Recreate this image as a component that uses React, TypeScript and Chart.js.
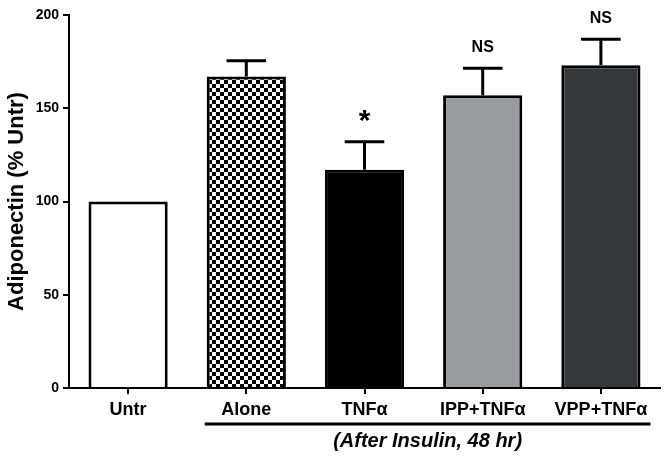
import React, { useEffect, useRef } from 'react';
import { Chart, registerables } from 'chart.js';

Chart.register(...registerables);

const categories = ['Untr', 'Alone', 'TNFα', 'IPP+TNFα', 'VPP+TNFα'];
const means = [100, 167, 117, 157, 173];
const sems = [0, 8.5, 15, 14.5, 14];
const marks = ['', '', '*', 'NS', 'NS'];
const yTicks = [0, 50, 100, 150, 200];
const groupLabel = '(After Insulin, 48 hr)';
const yTitle = 'Adiponectin (% Untr)';
const barColors = ['#ffffff', 'checker', '#000000', '#989ca1', '#35383b'];

const FONT = "'Liberation Sans', Arial, Helvetica, sans-serif";

function makeChecker(): CanvasPattern | string {
  const c = document.createElement('canvas');
  c.width = 8;
  c.height = 8;
  const g = c.getContext('2d');
  if (!g) return '#888';
  g.fillStyle = '#ffffff';
  g.fillRect(0, 0, 8, 8);
  g.fillStyle = '#000000';
  g.fillRect(0, 0, 4, 4);
  g.fillRect(4, 4, 4, 4);
  const p = g.createPattern(c, 'repeat');
  return p || '#888';
}

const overlay = {
  id: 'overlay',
  afterDatasetsDraw(chart: any) {
    const ctx = chart.ctx as CanvasRenderingContext2D;
    const meta = chart.getDatasetMeta(0);
    const y = chart.scales.y;
    ctx.save();
    meta.data.forEach((bar: any, i: number) => {
      const err = sems[i];
      const top = y.getPixelForValue(means[i] + err);
      const half = bar.width * 0.25;
      if (err > 0) {
        ctx.strokeStyle = '#000';
        ctx.lineWidth = 3;
        ctx.lineCap = 'butt';
        ctx.beginPath();
        ctx.moveTo(bar.x, bar.y);
        ctx.lineTo(bar.x, top);
        ctx.moveTo(bar.x - half, top);
        ctx.lineTo(bar.x + half, top);
        ctx.stroke();
      }
      const m = marks[i];
      if (m) {
        ctx.fillStyle = '#000';
        ctx.textAlign = 'center';
        ctx.textBaseline = 'alphabetic';
        if (m === '*') {
          ctx.font = `bold 30px ${FONT}`;
          ctx.fillText(m, bar.x, top - 12);
        } else {
          ctx.font = `bold 16px ${FONT}`;
          ctx.fillText(m, bar.x, top - 16);
        }
      }
    });
    ctx.restore();
  },
  afterDraw(chart: any) {
    const ctx = chart.ctx as CanvasRenderingContext2D;
    const meta = chart.getDatasetMeta(0);
    const a = meta.data[1];
    const b = meta.data[meta.data.length - 1];
    const x0 = a.x - a.width / 2 - 2;
    const x1 = b.x + b.width / 2 + 10;
    ctx.save();
    ctx.strokeStyle = '#000';
    ctx.lineWidth = 3;
    ctx.beginPath();
    ctx.moveTo(x0, 424);
    ctx.lineTo(x1, 424);
    ctx.stroke();
    ctx.fillStyle = '#000';
    ctx.font = `italic bold 20px ${FONT}`;
    ctx.textAlign = 'center';
    ctx.textBaseline = 'middle';
    ctx.fillText(groupLabel, (x0 + x1) / 2, 441);
    ctx.restore();
  },
};

export default function App() {
  const ref = useRef<HTMLCanvasElement | null>(null);
  useEffect(() => {
    document.body.style.margin = '0';
    const canvas = ref.current;
    if (!canvas) return;
    const checker = makeChecker();
    const colors = barColors.map((c) => (c === 'checker' ? checker : c));
    const chart = new Chart(canvas, {
      type: 'bar',
      data: {
        labels: categories,
        datasets: [
          {
            data: means,
            backgroundColor: colors as any,
            borderColor: '#000',
            borderWidth: 3,
            borderSkipped: 'bottom',
            barPercentage: 0.67,
            categoryPercentage: 1,
          },
        ],
      },
      options: {
        responsive: false,
        animation: false,
        devicePixelRatio: 1,
        layout: { padding: { top: 15, right: 10, bottom: 0, left: 0 } },
        plugins: { legend: { display: false }, tooltip: { enabled: false } },
        scales: {
          x: {
            grid: {
              offset: false,
              drawOnChartArea: false,
              drawTicks: true,
              tickLength: 6,
              color: '#000',
              lineWidth: 2,
            },
            border: { display: true, color: '#000', width: 2 },
            ticks: {
              color: '#000',
              padding: 5,
              font: { family: FONT, size: 18, weight: 'bold' },
              maxRotation: 0,
              autoSkip: false,
            },
            afterFit: (s: any) => {
              s.height = 68;
            },
          },
          y: {
            min: 0,
            max: 200,
            afterBuildTicks: (s: any) => {
              s.ticks = yTicks.map((v) => ({ value: v }));
            },
            grid: {
              drawOnChartArea: false,
              drawTicks: true,
              tickLength: 6,
              color: '#000',
              lineWidth: 2,
            },
            border: { display: true, color: '#000', width: 2 },
            ticks: {
              color: '#000',
              padding: 4,
              font: { family: FONT, size: 14, weight: 'bold' },
            },
            title: {
              display: true,
              text: yTitle,
              color: '#000',
              font: { family: FONT, size: 22, weight: 'bold' },
              padding: { top: 4, bottom: 0 },
            },
            afterFit: (s: any) => {
              s.width = 69;
            },
          },
        },
      },
      plugins: [overlay],
    });
    return () => chart.destroy();
  }, []);
  return <canvas ref={ref} width={670} height={456} style={{ display: 'block', width: 670, height: 456 }} />;
}
